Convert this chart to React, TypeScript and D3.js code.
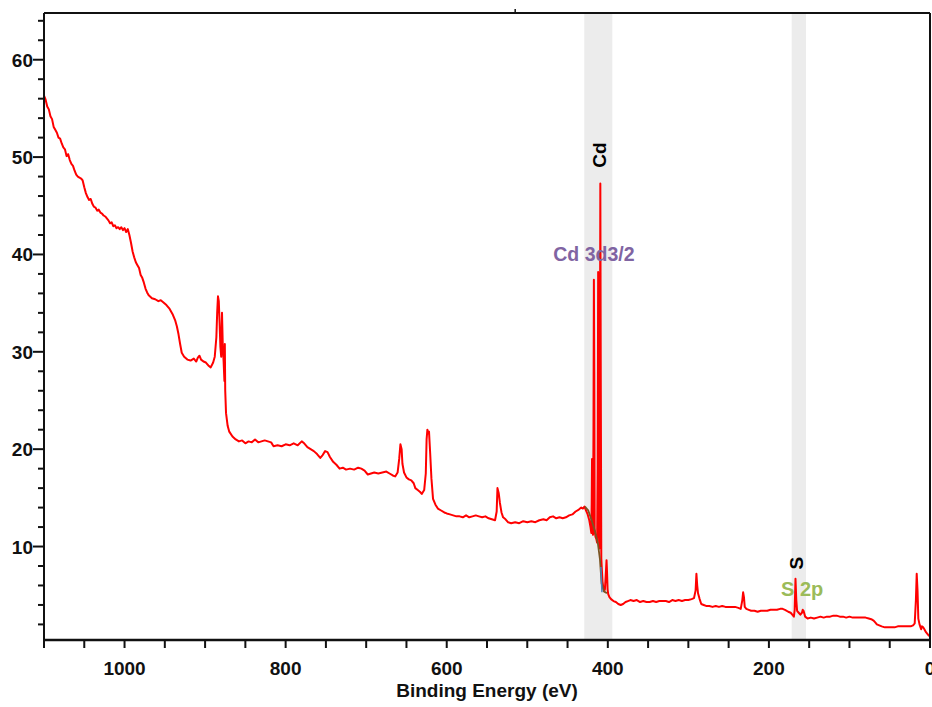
import React from "react";
import * as d3 from "d3";

// Survey spectrum (binding energy eV, intensity)
const energy: number[] = [
  1100,1098,1096,1094,1092,1090,1088,1086,1084,1082,1080,1078,1076,1074,1072,1070,1068,1066,1064,1062,
  1060,1058,1056,1054,1052,1050,1048,1046,1044,1042,1040,1038,1036,1034,1032,1030,1028,1026,1024,1022,
  1020,1018,1016,1014,1012,1010,1008,1006,1004,1002,1000,998,996,994,992,990,988,986,984,982,
  980,978,976,974,972,970,966,962,958,955,952,948,944,940,937,935,933,931,929,926,
  922,918,914,911,909,907,905,902,899,896,893,890,888,886,885,884,883,882,881,880,
  879,878,877,876,875.5,875,874,872,870,866,862,858,854,850,846,842,838,834,830,826,
  822,818,815,810,805,800,795,790,785,780,777,773,769,765,761,757,754,751,748,745,
  741,737,733,729,725,720,715,710,706,702,698,694,690,685,680,675,671,667,664,661,
  659,657.5,656,655,653,650,647,644,641,639,636,633,631,628,626,625,624,623,622,620.5,
  619,617,614,611,607,603,600,596,592,588,584,580,576,572,568,564,560,556,552,548,
  544,540,538,537,535.5,534,532,530,527,524,520,515,510,505,500,495,490,485,480,476,
  472,468,464,460,456,452,448,444,440,436,
  433,431,429,427,425,423,421.5,420.5,420,419.6,419.2,418.4,417.8,417.3,416.8,416.3,415.3,414.3,413.3,412.6,
  412.0,411.4,410.6,409.9,409.3,408.7,408.1,407.4,406.6,405.6,404.6,403.6,402.6,401.6,401.0,400.3,399.5,398,396,393,
  390,387,384,381,378,375,372,368,364,360,356,352,348,344,340,336,332,328,324,320,
  316,312,308,304,300,296,293,291,290,289,288,286,284,281,278,274,270,266,262,258,
  254,250,246,242,238,235,233,232,231,230,228,225,222,218,214,210,206,202,198,194,
  190,186,183,180,176,173,171,169,168,167,166,165,163,161,159,158,157,155,152,148,
  144,140,136,132,128,124,120,116,112,108,104,100,96,92,88,84,80,76,72,70,
  68,66,63,60,56,52,48,44,40,36,32,28,24,21,19,17.5,16.5,15.5,14.5,13,
  11,10,8.5,7,5,3,1,
];
const intensity: number[] = [
  56.3,55.9,55.2,54.9,54.2,53.9,53.1,52.8,52.5,52.0,51.9,51.4,51.0,50.8,50.1,50.3,49.7,49.3,49.1,48.6,
  48.2,48.0,47.9,47.8,47.6,46.9,46.3,45.9,45.6,45.7,45.2,44.9,44.8,44.5,44.6,44.3,44.2,44.0,43.9,43.7,
  43.5,43.2,43.3,42.9,43.0,42.7,42.8,42.6,42.8,42.5,42.7,42.3,42.6,42.0,41.2,40.3,39.7,39.2,38.9,38.6,
  37.9,37.6,37.1,36.5,36.1,35.8,35.5,35.4,35.2,35.3,35.1,34.8,34.4,33.8,33.2,32.6,31.8,30.8,29.9,29.5,
  29.2,29.1,29.3,29.0,29.4,29.6,29.2,29.0,28.9,28.6,28.4,28.9,29.5,31.5,34.0,35.7,35.2,33.0,30.5,29.5,
  34.0,30.5,29.0,27.0,30.8,26.0,23.7,22.4,21.8,21.3,21.0,20.8,20.9,20.6,20.8,20.7,21.0,20.7,20.8,20.9,
  20.8,20.7,20.3,20.4,20.3,20.5,20.4,20.6,20.4,20.8,20.6,20.2,20.0,19.8,19.5,19.1,19.4,19.8,19.7,19.2,
  18.7,18.4,18.0,18.1,17.9,18.0,17.9,18.1,18.0,17.8,17.4,17.5,17.6,17.5,17.6,17.7,17.5,17.3,17.2,17.6,
  19.0,20.5,20.0,18.5,17.6,17.1,16.9,16.8,16.5,16.0,15.8,15.6,15.4,15.8,17.5,21.0,22.0,21.6,21.8,19.5,
  17.0,14.9,14.3,13.9,13.7,13.5,13.4,13.3,13.2,13.1,13.1,13.0,13.2,13.0,13.1,13.2,13.1,13.0,13.1,12.9,
  12.8,12.7,13.6,16.0,15.5,14.5,13.5,13.0,12.8,12.5,12.4,12.5,12.4,12.6,12.5,12.6,12.5,12.7,12.8,12.7,
  13.0,13.1,12.9,13.0,12.9,13.0,13.2,13.3,13.6,13.8,
  14.0,13.9,14.1,13.7,13.3,12.7,12.0,11.4,14.5,19.0,12.0,11.2,22.0,37.4,28.0,11.6,11.0,10.8,10.4,18.0,
  38.2,16.0,9.8,22.0,47.3,26.0,8.8,7.6,6.4,5.8,5.4,5.6,7.0,8.6,7.4,5.6,5.1,4.8,4.6,4.4,
  4.3,4.1,4.0,4.1,4.3,4.4,4.5,4.4,4.5,4.3,4.4,4.3,4.3,4.4,4.3,4.4,4.4,4.4,4.3,4.5,
  4.4,4.5,4.4,4.5,4.5,4.6,4.7,5.5,7.2,6.0,5.2,4.6,4.1,4.0,3.9,3.9,3.8,3.9,3.8,3.9,
  3.8,3.8,3.8,3.8,3.7,3.6,4.5,5.3,4.8,3.8,3.6,3.5,3.4,3.4,3.3,3.4,3.4,3.4,3.5,3.5,
  3.5,3.6,3.6,3.5,3.3,3.2,3.0,2.8,3.5,6.7,4.5,3.4,3.2,3.0,3.2,3.5,3.4,2.8,2.6,2.7,
  2.6,2.7,2.8,2.7,2.8,2.8,2.9,2.9,2.8,2.8,2.7,2.8,2.7,2.7,2.7,2.7,2.7,2.6,2.5,2.4,
  2.2,2.0,1.9,1.8,1.7,1.7,1.7,1.7,1.8,1.8,1.8,1.8,1.8,1.9,2.1,4.5,7.2,5.5,2.6,2.0,
  1.5,1.8,1.7,1.5,1.2,1.0,0.8,
];

// Background (fit) under the Cd region
const bgEnergy: number[] = [428.4, 424.3, 419.7, 416.0, 412.3, 409.8, 407.7, 404.8, 401.1];
const bgIntensity: number[] = [14.1, 13.7, 12.6, 11.6, 10.3, 8.7, 6.2, 5.4, 5.2];
const fitEnergy: number[] = [408.6, 408.0, 407.3];
const fitIntensity: number[] = [7.9, 6.6, 5.3];

// Highlighted regions
const bands: { from: number; to: number; label: string; sub: string; subColor: string }[] = [
  { from: 429.2, to: 394.4, label: "Cd", sub: "Cd 3d3/2", subColor: "#8064a2" },
  { from: 171.7, to: 154.0, label: "S", sub: "S 2p", subColor: "#9bbb59" },
];

const xDomain: [number, number] = [1100, 0];
const yDomain: [number, number] = [0.4, 64.8];
const xLabelTicks: number[] = [1000, 800, 600, 400, 200, 0];
const yLabelTicks: number[] = [10, 20, 30, 40, 50, 60];
const xTitle = "Binding Energy (eV)";

const W = 932;
const H = 707;
const L = 44;
const R = 930;
const T = 13;
const B = 640;
const FONT = "'Liberation Sans', Arial, sans-serif";

export default function App() {
  const x = d3.scaleLinear().domain(xDomain).range([L, R]);
  const y = d3.scaleLinear().domain(yDomain).range([B, T]);
  const pts: [number, number][] = energy.map((e, i) => [e, intensity[i]]);
  const line = d3
    .line<[number, number]>()
    .x((d) => x(d[0]))
    .y((d) => y(d[1]));
  const bgPts: [number, number][] = bgEnergy.map((e, i) => [e, bgIntensity[i]]);
  const fitPts: [number, number][] = fitEnergy.map((e, i) => [e, fitIntensity[i]]);

  const xMinor = d3.range(1100, -1, -50);
  const yMinor = d3.range(2, 65, 2);

  return (
    <svg
      width={W}
      height={H}
      style={{ position: "absolute", left: 0, top: 0, background: "#fff" }}
      fontFamily={FONT}
    >
      <rect x={0} y={0} width={W} height={H} fill="#fff" />
      {bands.map((b) => (
        <rect
          key={b.label}
          x={x(b.from)}
          y={T}
          width={x(b.to) - x(b.from)}
          height={B - T}
          fill="#ececec"
        />
      ))}
      <path d={line(pts) || ""} fill="none" stroke="#ff0000" strokeWidth={2} strokeLinejoin="round" />
      <path d={line(bgPts) || ""} fill="none" stroke="#7a5524" strokeWidth={1.8} />
      <path d={line(fitPts) || ""} fill="none" stroke="#4f81bd" strokeWidth={1.5} />

      {/* frame */}
      <line x1={L} x2={R} y1={T} y2={T} stroke="#111" strokeWidth={2} />
      <line x1={R} x2={R} y1={T} y2={B} stroke="#111" strokeWidth={2} />
      <line x1={L} x2={L} y1={T} y2={B + 1} stroke="#111" strokeWidth={2} />
      <line x1={L - 1} x2={R + 1} y1={B} y2={B} stroke="#111" strokeWidth={2.5} />
      <line x1={x(515)} x2={x(515)} y1={9} y2={T} stroke="#111" strokeWidth={1.5} />

      {/* x ticks */}
      {xMinor.map((v) => (
        <line key={"xt" + v} x1={x(v)} x2={x(v)} y1={B} y2={B + 8} stroke="#111" strokeWidth={2} />
      ))}
      {xLabelTicks.map((v) => (
        <text
          key={"xl" + v}
          x={x(v)}
          y={675}
          textAnchor="middle"
          fontSize={19}
          fontWeight="bold"
          fill="#111"
        >
          {v}
        </text>
      ))}
      <text x={(L + R) / 2} y={697} textAnchor="middle" fontSize={19} fontWeight="bold" fill="#111">
        {xTitle}
      </text>

      {/* y ticks */}
      {yMinor.map((v) => (
        <line
          key={"yt" + v}
          x1={yLabelTicks.includes(v) ? L - 11 : L - 6}
          x2={L}
          y1={y(v)}
          y2={y(v)}
          stroke="#111"
          strokeWidth={2}
        />
      ))}
      {yLabelTicks.map((v) => (
        <text
          key={"yl" + v}
          x={L - 11}
          y={y(v) + 7}
          textAnchor="end"
          fontSize={19}
          fontWeight="bold"
          fill="#111"
        >
          {v}
        </text>
      ))}

      {/* annotations */}
      <text
        transform={`translate(${x((bands[0].from + bands[0].to) / 2) + 8},${y(50.2)}) rotate(-90)`}
        textAnchor="middle"
        fontSize={19}
        fontWeight="bold"
        fill="#000"
      >
        {bands[0].label}
      </text>
      <text x={x(467.7)} y={y(39.3)} fontSize={19.5} fontWeight="bold" fill={bands[0].subColor}>
        {bands[0].sub}
      </text>
      <text
        transform={`translate(${x((bands[1].from + bands[1].to) / 2) + 4},${y(8.3)}) rotate(-90)`}
        textAnchor="middle"
        fontSize={19}
        fontWeight="bold"
        fill="#000"
      >
        {bands[1].label}
      </text>
      <text x={x(185)} y={y(4.9)} fontSize={20} fontWeight="bold" fill={bands[1].subColor}>
        {bands[1].sub}
      </text>
    </svg>
  );
}
